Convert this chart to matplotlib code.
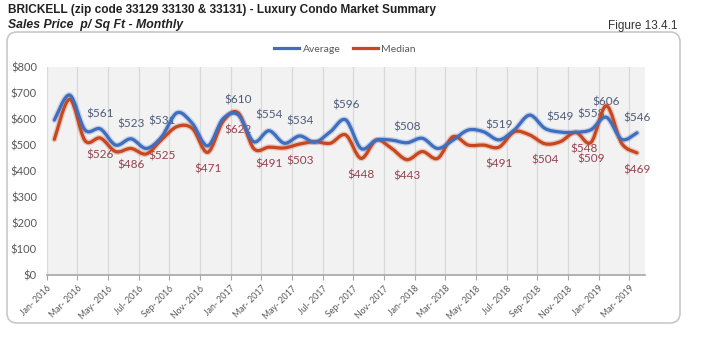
import numpy as np
import matplotlib
matplotlib.use("Agg")
import matplotlib.pyplot as plt
from matplotlib.path import Path
from matplotlib.patches import PathPatch, FancyBboxPatch
from matplotlib.lines import Line2D
from matplotlib.transforms import IdentityTransform

# monthly values, Jan-2016 .. Mar-2019
avg = [595, 691, 557, 561, 499, 523, 486, 531, 623, 582, 496, 600, 615,
       512, 554, 506, 534, 510, 550, 596, 486, 518, 518, 508, 525, 486,
       518, 557, 550, 519, 557, 614, 563, 549, 548, 558, 606, 521, 546]
med = [521, 675, 516, 526, 474, 486, 465, 520, 570, 563, 471, 590, 622,
       486, 491, 488, 503, 512, 506, 538, 448, 518, 486, 443, 474, 448,
       531, 499, 499, 491, 550, 538, 504, 512, 548, 509, 650, 506, 469]

tick_labels = ["Jan- 2016", "Mar- 2016", "May- 2016", "Jul- 2016", "Sep- 2016",
               "Nov- 2016", "Jan- 2017", "Mar- 2017", "May- 2017", "Jul- 2017",
               "Sep- 2017", "Nov- 2017", "Jan- 2018", "Mar- 2018", "May- 2018",
               "Jul- 2018", "Sep- 2018", "Nov- 2018", "Jan- 2019", "Mar- 2019"]

avg_lab_idx = [3, 5, 7, 12, 14, 16, 19, 23, 29, 33, 35, 36, 38]
avg_lab_txt = ["$561", "$523", "$531", "$610", "$554", "$534", "$596",
               "$508", "$519", "$549", "$558", "$606", "$546"]
med_lab_idx = [3, 5, 7, 10, 12, 14, 16, 20, 23, 29, 32, 34, 35, 38]
med_lab_txt = ["$526", "$486", "$525", "$471", "$622", "$491", "$503",
               "$448", "$443", "$491", "$504", "$548", "$509", "$469"]

BLUE = "#3f6ebf"
RED = "#c8471f"
BLUE_TXT = "#4d5a78"
RED_TXT = "#94414f"
GRAY = "#595959"

plt.rcParams['font.family'] = ['Lato', 'DejaVu Sans']


def smooth_path(y):
    # excel style smoothed line: bezier segments through every point
    p = np.column_stack([np.arange(len(y)), np.asarray(y, float)])
    ext = np.vstack([p[0], p, p[-1]])
    verts = [p[0]]
    codes = [Path.MOVETO]
    for i in range(len(p) - 1):
        c1 = ext[i + 1] + (ext[i + 2] - ext[i]) / 6.0
        c2 = ext[i + 2] - (ext[i + 3] - ext[i + 1]) / 6.0
        verts += [c1, c2, ext[i + 2]]
        codes += [Path.CURVE4] * 3
    return Path(verts, codes)


fig = plt.figure(figsize=(7.01, 3.40), dpi=100)
ax = fig.add_axes([0.0666, 0.1912, 0.853, 0.6126])
ax.set_facecolor("#f2f2f2")

for y, col in [(med, RED), (avg, BLUE)]:
    path = smooth_path(y)
    ax.add_patch(PathPatch(path, fill=False, ec=col, lw=4.2, alpha=0.25, zorder=3,
                           capstyle='round', joinstyle='round'))
    ax.add_patch(PathPatch(path, fill=False, ec=col, lw=2.3, zorder=4,
                           capstyle='round', joinstyle='round'))

for i, t in zip(avg_lab_idx, avg_lab_txt):
    ax.annotate(t, (i, avg[i]), xytext=(0, 11), textcoords='offset points',
                ha='center', va='center', fontsize=8.5, color=BLUE_TXT, zorder=2)
for i, t in zip(med_lab_idx, med_lab_txt):
    dx = 6 if t == "$548" else 0
    ax.annotate(t, (i, med[i]), xytext=(dx, -12), textcoords='offset points',
                ha='center', va='center', fontsize=8.5, color=RED_TXT, zorder=2)

ax.set_xlim(-0.5, 38.5)
ax.set_ylim(0, 800)
ticks = np.arange(-0.5, 38, 2)
ax.set_xticks(ticks)
ax.set_xticklabels(tick_labels, rotation=45, ha='right', rotation_mode='anchor',
                   fontsize=6.3, color=GRAY)
ax.set_yticks(np.arange(0, 801, 100))
ax.set_yticklabels(["$%d" % v for v in range(0, 801, 100)], fontsize=8, color=GRAY)
ax.tick_params(axis='y', length=0, pad=7)
ax.tick_params(axis='x', length=3.5, color="#a6a6a6", pad=3)
ax.grid(axis='x', color="#d9d9d9", lw=0.9)
ax.set_axisbelow(True)
for s in ['top', 'right', 'left']:
    ax.spines[s].set_visible(False)
ax.spines['bottom'].set_color("#a6a6a6")
ax.spines['bottom'].set_linewidth(1.2)

handles = [Line2D([], [], color=BLUE, lw=2.3), Line2D([], [], color=RED, lw=2.3)]
fig.legend(handles, ["Average", "Median"], loc='center', bbox_to_anchor=(0.492, 0.856),
           ncol=2, frameon=False, fontsize=7.5, handlelength=2.4, handletextpad=0.3,
           columnspacing=1.2, labelcolor=GRAY)

fig.text(0.011, 0.972, "BRICKELL (zip code 33129 33130 & 33131) - Luxury Condo Market Summary",
         fontsize=8.6, fontweight='bold', va='center', color="#222222",
         family=['Liberation Sans Narrow', 'Liberation Sans'])
fig.text(0.011, 0.927, "Sales Price  p/ Sq Ft - Monthly", fontsize=8.8, fontweight='bold',
         style='italic', va='center', color="#222222",
         family=['Liberation Sans Narrow', 'Liberation Sans'])
fig.text(0.967, 0.925, "Figure 13.4.1", fontsize=8.5, ha='right', va='center', color="#333333",
         family=['Liberation Sans Narrow', 'Liberation Sans'])

box = FancyBboxPatch((7, 340 - 323), 673, 291, boxstyle="round,pad=0,rounding_size=10",
                     transform=IdentityTransform(), fill=False, ec="#c8c8c8", lw=1.2)
fig.patches.append(box)

fig.savefig("out.png", dpi=100)
